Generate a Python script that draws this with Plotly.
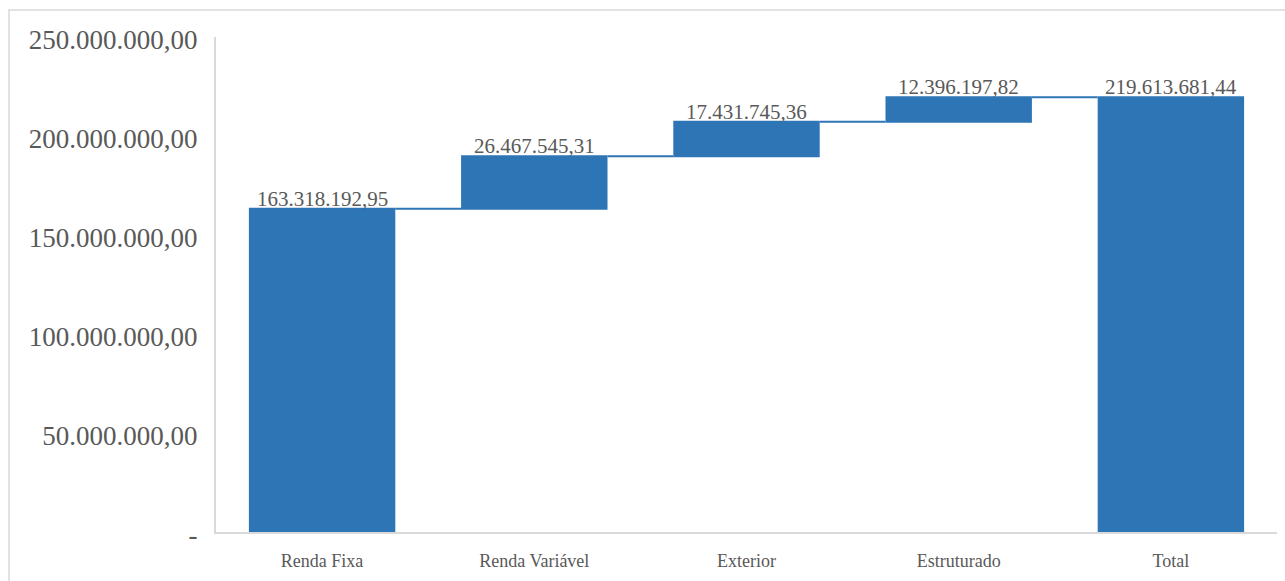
import plotly.graph_objects as go

categories = ["Renda Fixa", "Renda Variável", "Exterior", "Estruturado", "Total"]
values = [163318192.95, 26467545.31, 17431745.36, 12396197.82, 0]
measures = ["relative", "relative", "relative", "relative", "total"]

tick_values = [0, 50_000_000, 100_000_000, 150_000_000, 200_000_000, 250_000_000]
tick_labels = ["-", "50.000.000,00", "100.000.000,00", "150.000.000,00",
               "200.000.000,00", "250.000.000,00"]


def br_format(v):
    s = f"{v:,.2f}"
    return s.replace(",", "X").replace(".", ",").replace("X", ".")


# running totals give the top of each bar (the total bar is the full sum)
tops = []
running = 0.0
for v, m in zip(values, measures):
    if m == "total":
        tops.append(running)
    else:
        running += v
        tops.append(running)
label_values = values[:-1] + [tops[-1]]
labels = [br_format(v) for v in label_values]

blue = "#2e75b6"
grey_text = "#595959"
axis_grey = "#d9d9d9"
font_family = "Liberation Serif, Times New Roman, serif"

W, H = 1285, 581
L, R, T, B = 216, 1277, 37, 532

fig = go.Figure(go.Waterfall(
    x=categories,
    y=values,
    measure=measures,
    textposition="none",
    increasing=dict(marker=dict(color=blue)),
    decreasing=dict(marker=dict(color=blue)),
    totals=dict(marker=dict(color=blue)),
    connector=dict(line=dict(color=blue, width=2)),
))

# value labels sitting on top of each bar
for cat, top, txt in zip(categories, tops, labels):
    fig.add_annotation(
        x=cat, y=top, text=txt, showarrow=False,
        xanchor="center", yanchor="bottom", yshift=-4,
        font=dict(family=font_family, size=21, color=grey_text),
    )

# outer chart frame
fig.add_shape(
    type="rect", xref="paper", yref="paper",
    x0=(9 - L) / (R - L), x1=(W + 5 - L) / (R - L),
    y0=(B - (H + 5)) / (B - T), y1=(B - 10) / (B - T),
    line=dict(color=axis_grey, width=1.5), fillcolor="rgba(0,0,0,0)", layer="below",
)

fig.update_layout(
    width=W, height=H,
    margin=dict(l=L, r=W - R, t=T, b=H - B),
    paper_bgcolor="white",
    plot_bgcolor="white",
    showlegend=False,
    waterfallgap=0.31,
    xaxis=dict(
        showgrid=False, showline=True, linecolor=axis_grey, linewidth=2,
        ticks="", tickfont=dict(family=font_family, size=18, color=grey_text),
        ticklabelstandoff=11,
    ),
    yaxis=dict(
        range=[0, 250_000_000],
        tickvals=tick_values, ticktext=tick_labels,
        showgrid=False, zeroline=False, showline=True, linecolor=axis_grey, linewidth=2,
        ticks="", ticklen=0, tickfont=dict(family=font_family, size=27, color=grey_text),
        ticklabelstandoff=11, ticklabelshift=3,
    ),
)

fig.write_html("out.html")
